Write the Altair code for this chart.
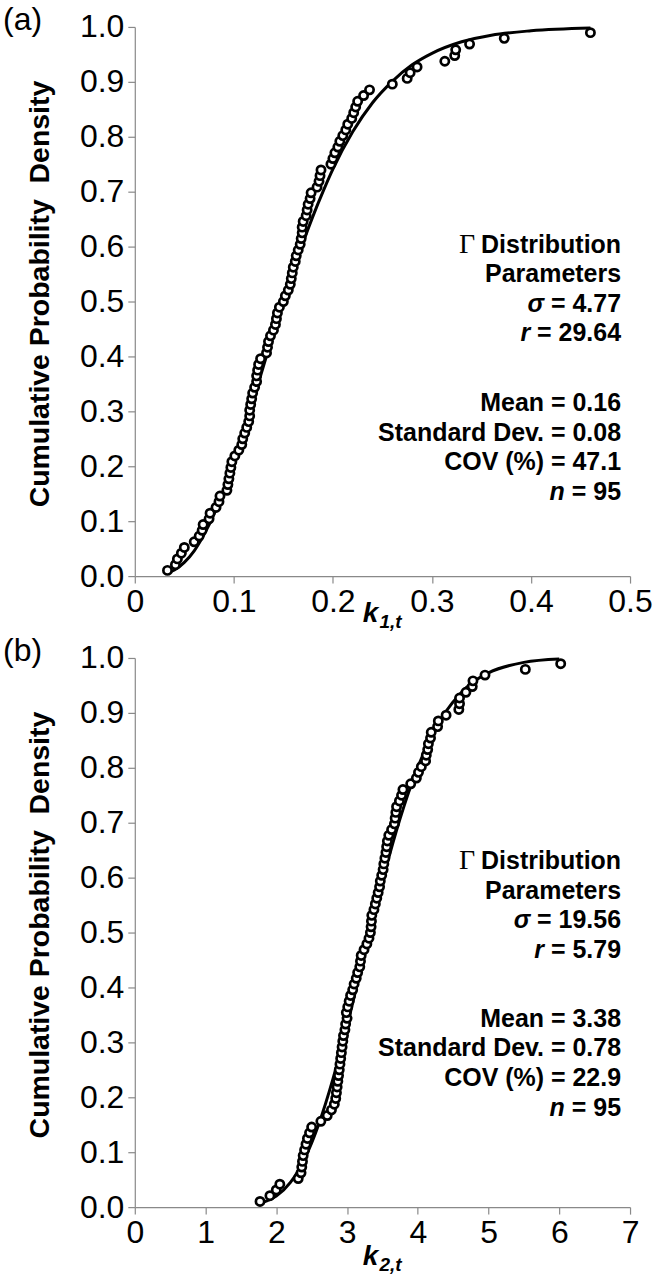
import altair as alt
import pandas as pd

# ---------------- data ----------------
# plotting position (cumulative probability) of each ranked specimen, n = 95
cdf_rank = [
    0.0104, 0.0208, 0.0313, 0.0417, 0.0521, 0.0625, 0.0729, 0.0833, 0.0938, 0.1042,
    0.1146, 0.1250, 0.1354, 0.1458, 0.1563, 0.1667, 0.1771, 0.1875, 0.1979, 0.2083,
    0.2188, 0.2292, 0.2396, 0.2500, 0.2604, 0.2708, 0.2813, 0.2917, 0.3021, 0.3125,
    0.3229, 0.3333, 0.3438, 0.3542, 0.3646, 0.3750, 0.3854, 0.3958, 0.4063, 0.4167,
    0.4271, 0.4375, 0.4479, 0.4583, 0.4688, 0.4792, 0.4896, 0.5000, 0.5104, 0.5208,
    0.5313, 0.5417, 0.5521, 0.5625, 0.5729, 0.5833, 0.5938, 0.6042, 0.6146, 0.6250,
    0.6354, 0.6458, 0.6563, 0.6667, 0.6771, 0.6875, 0.6979, 0.7083, 0.7188, 0.7292,
    0.7396, 0.7500, 0.7604, 0.7708, 0.7813, 0.7917, 0.8021, 0.8125, 0.8229, 0.8333,
    0.8438, 0.8542, 0.8646, 0.8750, 0.8854, 0.8958, 0.9063, 0.9167, 0.9271, 0.9375,
    0.9479, 0.9583, 0.9688, 0.9792, 0.9896,
]

# panel (a): k1,t observations (ranked)
k1_obs = [
    0.033, 0.041, 0.043, 0.047, 0.050, 0.060, 0.065, 0.068, 0.069, 0.075,
    0.076, 0.082, 0.085, 0.086, 0.093, 0.094, 0.095, 0.096, 0.097, 0.098,
    0.101, 0.105, 0.108, 0.109, 0.111, 0.113, 0.115, 0.116, 0.116, 0.117,
    0.118, 0.119, 0.121, 0.123, 0.123, 0.124, 0.125, 0.127, 0.133, 0.134,
    0.135, 0.137, 0.140, 0.142, 0.143, 0.144, 0.146, 0.150, 0.152, 0.155,
    0.157, 0.158, 0.159, 0.160, 0.162, 0.163, 0.165, 0.167, 0.168, 0.169,
    0.169, 0.170, 0.173, 0.174, 0.175, 0.177, 0.178, 0.184, 0.186, 0.187,
    0.188, 0.198, 0.200, 0.202, 0.205, 0.207, 0.210, 0.213, 0.215, 0.219,
    0.221, 0.223, 0.225, 0.231, 0.237, 0.260, 0.275, 0.278, 0.285, 0.313,
    0.323, 0.324, 0.338, 0.373, 0.460,
]
# panel (a): fitted Gamma CDF
k1_fit_x = [0.035, 0.04, 0.05, 0.06, 0.07, 0.08, 0.09, 0.10, 0.11, 0.12, 0.13, 0.14,
            0.15, 0.16, 0.17, 0.18, 0.19, 0.20, 0.22, 0.24, 0.26, 0.28, 0.30, 0.33,
            0.36, 0.40, 0.46]
k1_fit_y = [0.007, 0.011, 0.025, 0.046, 0.076, 0.113, 0.158, 0.209, 0.265, 0.323, 0.383, 0.443,
            0.500, 0.556, 0.608, 0.656, 0.700, 0.741, 0.809, 0.862, 0.901, 0.931, 0.952, 0.973,
            0.985, 0.993, 0.998]

# panel (b): k2,t observations (ranked)
k2_obs = [
    1.77, 1.91, 2.00, 2.05, 2.31, 2.35, 2.36, 2.37, 2.38, 2.40,
    2.42, 2.44, 2.47, 2.50, 2.63, 2.72, 2.78, 2.82, 2.84, 2.85,
    2.86, 2.87, 2.88, 2.89, 2.90, 2.91, 2.92, 2.93, 2.94, 2.95,
    2.97, 2.98, 3.00, 2.99, 3.01, 3.03, 3.05, 3.08, 3.10, 3.13,
    3.15, 3.18, 3.19, 3.20, 3.24, 3.28, 3.31, 3.33, 3.34, 3.345,
    3.35, 3.38, 3.40, 3.42, 3.44, 3.46, 3.47, 3.49, 3.51, 3.52,
    3.535, 3.55, 3.56, 3.57, 3.59, 3.63, 3.67, 3.68, 3.69, 3.70,
    3.74, 3.77, 3.79, 3.90, 3.98, 4.01, 4.05, 4.11, 4.12, 4.14,
    4.15, 4.18, 4.19, 4.28, 4.29, 4.40, 4.58, 4.59, 4.59, 4.68,
    4.77, 4.78, 4.95, 5.52, 6.02,
]
k2_fit_x = [1.75, 1.8, 2.0, 2.2, 2.4, 2.6, 2.8, 3.0, 3.2, 3.4, 3.6, 3.8, 4.0, 4.2, 4.4,
            4.6, 4.8, 5.0, 5.5, 6.0]
k2_fit_y = [0.005, 0.008, 0.020, 0.045, 0.088, 0.151, 0.233, 0.330, 0.436, 0.541, 0.641,
            0.728, 0.801, 0.859, 0.903, 0.935, 0.958, 0.973, 0.992, 0.998]

y_ticks = [0.0, 0.1, 0.2, 0.3, 0.4, 0.5, 0.6, 0.7, 0.8, 0.9, 1.0]
k1_ticks = [0.0, 0.1, 0.2, 0.3, 0.4, 0.5]
k2_ticks = [0, 1, 2, 3, 4, 5, 6, 7]

panel_a_text = {
    "tag": "(a)", "sigma": "= 4.77", "r": "= 29.64", "mean": "Mean = 0.16",
    "sd": "Standard Dev. = 0.08", "cov": "COV (%) = 47.1", "n": "= 95", "sub": "1,t",
}
panel_b_text = {
    "tag": "(b)", "sigma": "= 19.56", "r": "= 5.79", "mean": "Mean = 3.38",
    "sd": "Standard Dev. = 0.78", "cov": "COV (%) = 22.9", "n": "= 95", "sub": "2,t",
}

FONT = "Liberation Sans"
W = 496
H = 550


def txt(s, x, y, size=25, weight="bold", style="normal", align="right",
        font=FONT, baseline="middle"):
    return alt.Chart(pd.DataFrame({"t": [s]})).mark_text(
        align=align, baseline=baseline, font=font, fontSize=size,
        fontWeight=weight, fontStyle=style, color="black"
    ).encode(x=alt.value(x), y=alt.value(y), text="t:N")


def panel(obs, fit_x, fit_y, xdom, xticks, xfmt, T, ly, sig_off, r_off, kdy):
    pts = pd.DataFrame({"x": obs, "y": cdf_rank})
    fit = pd.DataFrame({"x": fit_x, "y": fit_y})
    xenc = alt.X("x:Q", scale=alt.Scale(domain=xdom, nice=False, zero=False),
                 axis=alt.Axis(values=xticks, format=xfmt, title=None, grid=False,
                               tickSize=7, labelPadding=3, labelFlush=False))
    yenc = alt.Y("y:Q", scale=alt.Scale(domain=[0, 1], nice=False),
                 axis=alt.Axis(values=y_ticks, format=".1f", grid=False, tickSize=7,
                               labelPadding=4, labelFlush=False,
                               title="Cumulative Probability\u00a0 Density",
                               titleFont=FONT, titleFontSize=28.5, titleFontWeight="bold",
                               titleColor="black", titleX=-95, titleY=H / 2 - 8,
                               titleAngle=-90, titleBaseline="middle",
                               titleAlign="center"))
    line = alt.Chart(fit).mark_line(color="black", strokeWidth=3,
                                    interpolate="monotone").encode(x=xenc, y=yenc)
    dots = alt.Chart(pts).mark_point(shape="circle", filled=True, fill="white",
                                     stroke="black", strokeWidth=2.7, size=68,
                                     opacity=1).encode(x="x:Q", y="y:Q")
    R = 487
    sw = 6.9
    layers = [
        line, dots,
        txt(T["tag"], -132, -7, size=32, weight="normal", align="left"),
        txt("\u0393", 341, ly[0], size=28, weight="normal", font="Liberation Serif"),
        txt("Distribution", R, ly[0]),
        txt("Parameters", R, ly[1]),
        txt(T["sigma"], R, ly[2]),
        txt("\u03c3", R - sig_off - sw, ly[2], style="italic"),
        txt(T["r"], R, ly[3]),
        txt("r", R - r_off - sw, ly[3], style="italic"),
        txt(T["mean"], R, ly[4]),
        txt(T["sd"], R, ly[5]),
        txt(T["cov"], R, ly[6]),
        txt(T["n"], R, ly[7]),
        txt("n", R - 49.4 - sw, ly[7], style="italic"),
        txt("k", 244, H + kdy, size=28, style="italic", baseline="alphabetic"),
        txt(T["sub"], 245, H + kdy + 6, size=19, style="italic", align="left",
            baseline="alphabetic"),
    ]
    return alt.layer(*layers).properties(width=W, height=H)


# widths (px, bold 25) of the "= value" parts, used to place the italic symbols
chart_a = panel(k1_obs, k1_fit_x, k1_fit_y, [0, 0.5], k1_ticks, ".1~f",
                panel_a_text, [218, 247, 277, 307, 377, 407, 436, 466], 70.2, 84.1, 46)
chart_b = panel(k2_obs, k2_fit_x, k2_fit_y, [0, 7], k2_ticks, "d",
                panel_b_text, [203, 233, 262, 292, 362, 391, 421, 451], 84.1, 70.2, 58)

chart = alt.vconcat(chart_a, chart_b, spacing=82, bounds="flush").properties(
    padding={"left": 3, "top": 3, "right": 0, "bottom": 0}
).configure_view(stroke=None).configure_axis(
    domainColor="#898989", tickColor="#898989", domainWidth=1.2, tickWidth=1.2,
    labelFont=FONT, labelFontSize=32, labelColor="black", labelFontWeight="normal"
)

chart.save("out.html", embed_options={"renderer": "svg", "actions": False})
